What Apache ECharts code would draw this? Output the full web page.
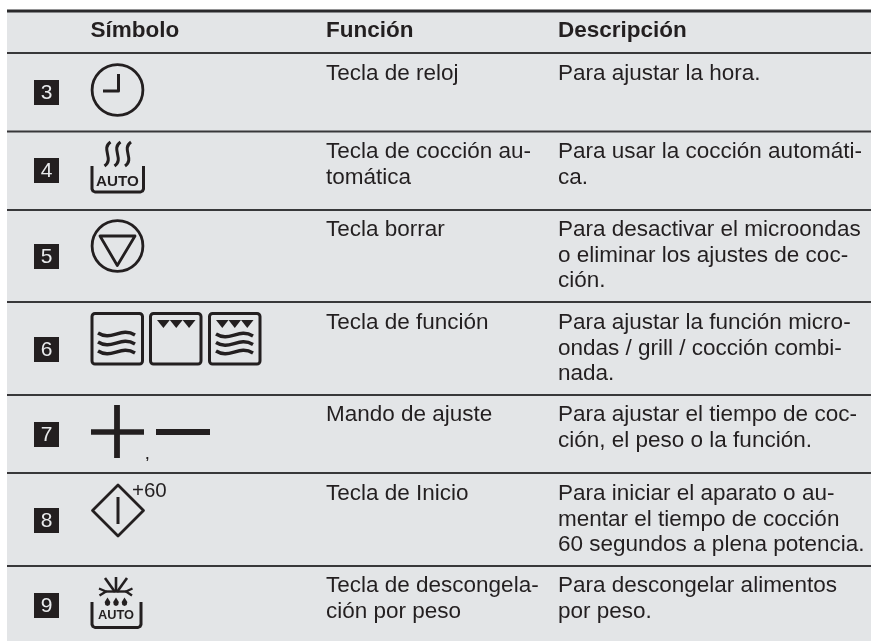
<!DOCTYPE html>
<html><head><meta charset="utf-8">
<style>html,body{margin:0;padding:0;background:#fff}#c{width:871px;height:641px}</style>
<script src="https://cdn.jsdelivr.net/npm/echarts@6/dist/echarts.min.js"></script>
</head><body><div id="c"></div>
<script>
const headers = ['Símbolo', 'Función', 'Descripción'];
const rowNumbers = ['3', '4', '5', '6', '7', '8', '9'];
const functions = [
  ['Tecla de reloj'],
  ['Tecla de cocción au-', 'tomática'],
  ['Tecla borrar'],
  ['Tecla de función'],
  ['Mando de ajuste'],
  ['Tecla de Inicio'],
  ['Tecla de descongela-', 'ción por peso']
];
const descriptions = [
  ['Para ajustar la hora.'],
  ['Para usar la cocción automáti-', 'ca.'],
  ['Para desactivar el microondas', 'o eliminar los ajustes de coc-', 'ción.'],
  ['Para ajustar la función micro-', 'ondas / grill / cocción combi-', 'nada.'],
  ['Para ajustar el tiempo de coc-', 'ción, el peso o la función.'],
  ['Para iniciar el aparato o au-', 'mentar el tiempo de cocción', '60 segundos a plena potencia.'],
  ['Para descongelar alimentos', 'por peso.']
];

// layout
const INK = '#231f20', BG = '#e3e5e7', FF = '"Liberation Sans", Arial, sans-serif', FS = 22.5;
const rules = [53, 131.5, 210, 302, 395, 473, 566];
const baselines = [82, 160, 238, 331, 423, 502, 594];
const badgeTops = [80, 158, 244, 337, 422, 508, 593];
const LH = 25.2, X_FUNC = 326, X_DESC = 558;
const els = [];
const z = 5;
const txt = (s, x, base, o = {}) => {
  const fs = o.fs || FS;
  els.push({ type: 'text', silent: true, z, style: {
    text: s, x, y: base - fs * 0.345, fill: o.fill || INK, align: o.align || 'left', verticalAlign: 'middle',
    font: (o.bold ? 'bold ' : '') + fs + 'px ' + FF } });
};
const stroke = (w) => ({ stroke: INK, lineWidth: w, fill: 'none', lineCap: 'butt', lineJoin: 'round' });
const line = (x1, y1, x2, y2, w) => els.push({ type: 'line', silent: true, z, shape: { x1, y1, x2, y2 }, style: stroke(w) });
const circle = (cx, cy, r, w) => els.push({ type: 'circle', silent: true, z, shape: { cx, cy, r }, style: stroke(w) });
const poly = (points, w) => els.push({ type: 'polyline', silent: true, z, shape: { points }, style: stroke(w) });
const closed = (points, w) => els.push({ type: 'polygon', silent: true, z, shape: { points }, style: stroke(w) });
const solid = (points) => els.push({ type: 'polygon', silent: true, z, shape: { points }, style: { fill: INK } });
const curve = (x1, y1, cpx1, cpy1, cpx2, cpy2, x2, y2, w) => els.push({ type: 'bezierCurve', silent: true, z, shape: { x1, y1, x2, y2, cpx1, cpy1, cpx2, cpy2 }, style: stroke(w) });
const wave = (x, y, w) => curve(x, y - 1, x + w * 0.36, y + 7.5, x + w * 0.62, y - 7.5, x + w, y + 1, 3.4);
const tris = (x, y, w) => { const s = w / 3; for (let i = 0; i < 3; i++) solid([[x + i * s, y], [x + (i + 1) * s, y], [x + (i + .5) * s, y + 8]]); };
const tray = (l, r, t, b, w) => poly([[l, t], [l, b - 3], [l + 1, b - 1], [l + 3, b], [r - 3, b], [r - 1, b - 1], [r, b - 3], [r, t]], w);
const box = (x, y) => els.push({ type: 'rect', silent: true, z, shape: { x, y, width: 50.5, height: 50.5, r: 3 }, style: stroke(3) });

// panel
els.push({ type: 'rect', silent: true, z: 1, shape: { x: 7, y: 11, width: 864, height: 630 }, style: { fill: BG } });
els.push({ type: 'rect', silent: true, z: 2, shape: { x: 7, y: 9.5, width: 864, height: 3 }, style: { fill: '#2a2a2c' } });
rules.forEach(y => els.push({ type: 'line', silent: true, z: 2, shape: { x1: 7, y1: y, x2: 871, y2: y }, style: { stroke: '#38383a', lineWidth: 1.8 } }));

// header
txt(headers[0], 90.5, 38.5, { bold: true });
txt(headers[1], X_FUNC, 38.5, { bold: true });
txt(headers[2], X_DESC, 38.5, { bold: true });

// rows
rowNumbers.forEach((n, i) => {
  els.push({ type: 'rect', silent: true, z, shape: { x: 34, y: badgeTops[i], width: 25, height: 25 }, style: { fill: '#231f20' } });
  txt(n, 46.5, badgeTops[i] + 20, { fill: '#e8eaec', align: 'center', fs: 21 });
  functions[i].forEach((s, k) => txt(s, X_FUNC, baselines[i] + k * LH));
  descriptions[i].forEach((s, k) => txt(s, X_DESC, baselines[i] + k * LH));
});

// clock
circle(117.5, 90, 25.4, 2.8);
poly([[103, 91], [118.5, 91], [118.5, 74]], 3);

// auto cooking
[107.5, 117.5, 128].forEach(x => curve(x + 3, 142, x - 7, 149, x + 7, 159, x - 3, 166, 3));
tray(92, 143.5, 166, 192, 3);
txt('AUTO', 117.5, 187, { bold: true, fs: 15.2, align: 'center' });

// clear
circle(117.5, 246, 25.4, 2.8);
closed([[100, 236], [135, 236], [117.3, 265.5]], 2.8);

// function keys
box(92, 313.5); box(150.5, 313.5); box(209.5, 313.5);
[334, 343, 352].forEach(y => wave(98, y, 37));
tris(157, 320, 38.5);
tris(216, 320, 37.5);
[335, 343.5, 352].forEach(y => wave(216, y, 37));

// plus and minus
line(91, 432, 144, 432, 5.5);
line(117, 405, 117, 458, 5.8);
line(156, 432, 210, 432, 5.8);
txt(',', 145.5, 460, { fs: 13, bold: true });

// start
closed([[92.5, 510.5], [118, 485], [143.5, 510.5], [118, 536]], 2.8);
line(118, 497, 118, 524, 3);
txt('+60', 132, 498.5, { fs: 20.5 });

// defrost
line(116, 577, 116, 592, 2.6);
line(105, 578, 115, 592, 2.6);
line(127, 578, 117, 592, 2.6);
poly([[99, 588.5], [106, 591.5], [99.5, 595.5]], 2.4);
poly([[132.5, 588.5], [126, 591.5], [132, 595.5]], 2.4);
line(106, 591.5, 126, 591.5, 2.4);
[107.5, 116, 124.5].forEach(x => {
  solid([[x, 597.5], [x + 2.8, 602], [x + 2.2, 605], [x, 606], [x - 2.2, 605], [x - 2.8, 602]]);
});
tray(92, 141, 602, 627.5, 3);
txt('AUTO', 116, 619.5, { bold: true, fs: 12.8, align: 'center' });

const chart = echarts.init(document.getElementById('c'), null, { renderer: 'canvas' });
chart.setOption({ animation: false, backgroundColor: '#ffffff', graphic: { elements: els } });
</script></body></html>
